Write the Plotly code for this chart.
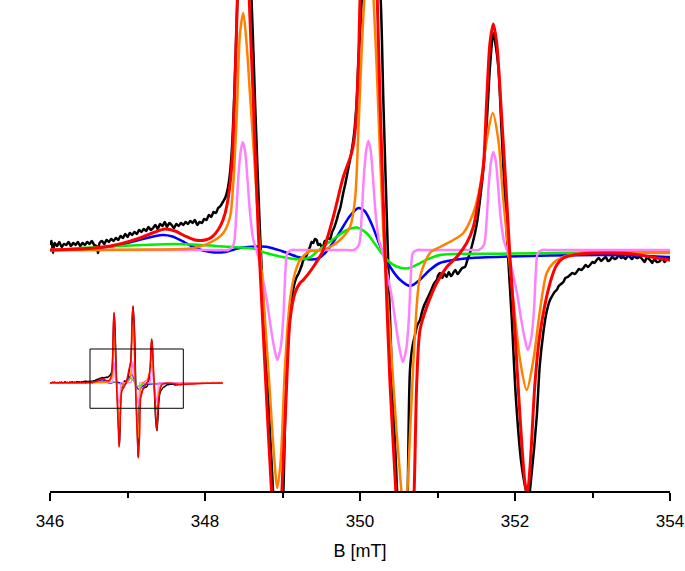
import plotly.graph_objects as go

# ---- data: (B [mT], signal [a.u.]) ----
black = [
    (343.0, 2), (343.1, -2), (343.2, 3), (343.3, 0), (343.4, 4), (343.5, -1), (343.6, 2), (343.7, -3),
    (343.8, 3), (343.9, 1), (344.0, 4), (344.1, -2), (344.2, 2), (344.3, 5), (344.4, 0), (344.5, 3),
    (344.6, -1), (344.7, 4), (344.8, 2), (344.9, 5), (345.0, 1), (345.1, 4), (345.2, 2), (345.3, 6),
    (345.4, 3), (345.5, 5), (345.6, 2), (345.7, 6), (345.8, 4), (345.9, 7),
    (346.00, 6), (346.02, 9), (346.04, -3), (346.06, 7), (346.09, 4), (346.12, 8), (346.15, 3), (346.18, 6),
    (346.21, 5), (346.24, 8), (346.27, 4), (346.30, 7), (346.33, 5), (346.36, 8), (346.39, 4), (346.42, 7),
    (346.45, 5), (346.48, 8), (346.51, 6), (346.54, 9), (346.57, 5), (346.60, 4), (346.62, -3), (346.64, 7),
    (346.67, 9), (346.70, 6), (346.73, 10), (346.76, 8), (346.79, 11), (346.82, 9), (346.85, 12), (346.88, 10),
    (346.91, 14), (346.94, 12), (346.97, 16), (347.00, 13), (347.03, 17), (347.06, 15), (347.09, 18), (347.12, 16),
    (347.15, 20), (347.18, 18), (347.21, 21), (347.24, 19), (347.27, 23), (347.30, 20), (347.33, 22), (347.36, 25),
    (347.39, 21), (347.42, 26), (347.45, 24), (347.48, 28), (347.51, 23), (347.54, 27), (347.57, 25), (347.60, 22),
    (347.63, 26), (347.66, 24), (347.69, 27), (347.72, 25), (347.75, 28), (347.78, 26), (347.81, 29), (347.84, 27),
    (347.87, 30), (347.90, 25), (347.93, 28), (347.96, 27), (347.99, 31), (348.02, 30), (348.05, 35), (348.08, 33),
    (348.11, 38), (348.14, 37), (348.17, 42), (348.20, 44), (348.23, 48), (348.26, 52), (348.29, 60), (348.32, 75),
    (348.35, 105), (348.38, 160), (348.42, 255), (348.45, 315), (348.50, 360), (348.55, 318), (348.60, 252),
    (348.645, 150), (348.71, 17), (348.774, -83), (348.839, -183), (348.881, -245), (348.915, -300), (348.945, -325),
    (348.975, -300), (349.01, -245), (349.054, -117), (349.119, -50), (349.15, -35), (349.183, -27), (349.205, -24),
    (349.226, -20), (349.25, -15), (349.27, -10), (349.29, -9), (349.312, -5), (349.335, 0), (349.355, 3),
    (349.375, 8), (349.397, 7), (349.42, 11), (349.441, 10), (349.46, 5), (349.484, 6), (349.505, 3), (349.526, 4),
    (349.545, 9), (349.561, 8), (349.585, 12), (349.613, 11), (349.64, 18), (349.665, 22), (349.699, 30),
    (349.72, 36), (349.745, 42), (349.784, 57), (349.81, 66), (349.84, 78), (349.871, 90), (349.89, 98),
    (349.914, 110), (349.935, 125), (349.958, 150), (349.98, 190), (350.0, 217), (350.022, 250), (350.06, 340),
    (350.12, 398), (350.19, 340), (350.267, 250), (350.301, 150), (350.352, 17), (350.409, -117), (350.481, -245),
    (350.515, -330), (350.55, -385), (350.585, -330), (350.615, -245), (350.645, -120), (350.68, -95), (350.71, -85),
    (350.74, -75), (350.774, -70), (350.80, -62), (350.83, -55), (350.86, -50), (350.903, -43), (350.93, -38),
    (350.96, -33), (350.99, -30), (351.01, -25), (351.032, -23), (351.06, -28), (351.09, -24), (351.118, -27),
    (351.145, -22), (351.175, -26), (351.203, -23), (351.23, -20), (351.26, -24), (351.29, -21), (351.32, -18),
    (351.355, -17), (351.385, -10), (351.419, -3), (351.45, 6), (351.484, 17), (351.515, 30), (351.548, 50),
    (351.58, 72), (351.613, 100), (351.645, 140), (351.677, 183), (351.72, 217), (351.75, 205), (351.785, 183),
    (351.828, 117), (351.893, 17), (351.957, -67), (352.013, -150), (352.077, -210), (352.142, -241),
    (352.174, -250), (352.206, -230), (352.28, -167), (352.32, -115), (352.365, -83), (352.40, -65), (352.43, -55),
    (352.452, -50), (352.48, -46), (352.51, -42), (352.538, -40), (352.565, -36), (352.595, -34), (352.624, -32),
    (352.65, -28), (352.68, -27), (352.71, -25), (352.74, -23), (352.77, -24), (352.796, -22), (352.825, -19),
    (352.855, -20), (352.882, -18), (352.91, -15), (352.94, -17), (352.968, -15), (353.0, -12), (353.025, -13),
    (353.054, -10), (353.08, -8), (353.11, -11), (353.139, -9), (353.17, -7), (353.2, -11), (353.226, -10),
    (353.255, -7), (353.285, -9), (353.312, -8), (353.34, -5), (353.37, -8), (353.397, -7), (353.425, -9),
    (353.455, -6), (353.484, -7), (353.51, -9), (353.54, -6), (353.57, -8), (353.613, -7), (353.64, -9),
    (353.67, -12), (353.70, -8), (353.742, -10), (353.77, -13), (353.80, -9), (353.83, -12), (353.871, -11),
    (353.90, -8), (353.93, -12), (353.96, -9), (354.0, -9),
    (354.1, -8), (354.2, -11), (354.3, -6), (354.4, -9), (354.5, -5), (354.6, -8), (354.7, -4), (354.8, -7),
    (354.9, -3), (355.0, -6), (355.1, -2), (355.2, -5), (355.3, -3), (355.4, -6), (355.5, -2), (355.6, -4),
    (355.7, -1), (355.8, -4), (355.9, 0), (356.0, -3), (356.1, 1), (356.2, -2), (356.3, 0), (356.4, -3),
    (356.5, 1), (356.6, -2), (356.7, 0), (356.8, -3), (356.9, 1), (357.0, -1), (357.1, 2), (357.2, -2),
    (357.3, 1), (357.4, -1), (357.5, 2), (357.6, -1), (357.7, 1), (357.8, 0),
]

blue = [
    (343.0, 0), (346.0, 0), (346.5, 1), (346.9, 5), (347.2, 11), (347.45, 15), (347.58, 13.5), (347.74, 7.5),
    (347.91, 1), (348.09, -2.3), (348.26, -2), (348.45, 2), (348.6, 3.3), (348.79, 3.3), (348.99, -1),
    (349.2, -7), (349.36, -9.5), (349.46, -8.5), (349.55, -3), (349.63, 5), (349.74, 18), (349.87, 34),
    (349.98, 42), (350.06, 39), (350.15, 26), (350.26, 4), (350.39, -17), (350.52, -30), (350.65, -36),
    (350.77, -30), (350.9, -20), (351.03, -13), (351.2, -10), (351.42, -8), (351.93, -6.5), (352.45, -5.5),
    (353.1, -5), (353.6, -5.5), (354.0, -7), (355.5, -4), (357.8, -2),
]

green = [
    (343.0, 0), (346.0, 0), (346.4, 2), (346.75, 3.5), (347.2, 5), (347.6, 6), (347.95, 5), (348.24, 3.5),
    (348.45, 2.5), (348.62, 1.5), (348.79, -3), (349.0, -7), (349.2, -9.3), (349.35, -7.5), (349.47, 0),
    (349.57, 6), (349.7, 13.3), (349.83, 20), (349.96, 22.5), (350.09, 16.5), (350.22, 3), (350.35, -10),
    (350.47, -16.5), (350.62, -18.3), (350.77, -13.3), (350.9, -8.3), (351.03, -5), (351.2, -4), (351.6, -3.8),
    (352.0, -3.5), (352.5, -3), (353.0, -2.5), (353.5, -2), (354.0, -2), (357.8, -1),
]

violet = [
    (343.0, 0), (346.0, 0), (348.0, 0), (348.22, 0), (348.301, 0), (348.366, 5), (348.401, 33), (348.430, 73),
    (348.461, 99), (348.487, 108), (348.517, 99), (348.546, 73), (348.581, 37), (348.624, 10), (348.675, -3),
    (348.732, -23), (348.797, -50), (348.848, -77), (348.891, -97), (348.933, -110), (348.977, -97),
    (349.011, -67), (349.037, -23), (349.062, -3), (349.119, 0), (349.2, 0), (349.5, 0), (349.84, 0),
    (349.921, 0), (349.986, 5), (350.021, 34), (350.050, 74), (350.081, 100), (350.107, 109), (350.137, 100),
    (350.166, 74), (350.201, 37), (350.244, 10), (350.295, -3), (350.352, -24), (350.417, -50), (350.468, -78),
    (350.511, -99), (350.553, -112), (350.597, -99), (350.631, -68), (350.657, -24), (350.682, -3), (350.739, 0),
    (350.82, 0), (351.1, 0), (351.45, 0), (351.534, 0), (351.599, 5), (351.634, 30), (351.663, 67),
    (351.694, 90), (351.720, 98), (351.750, 90), (351.779, 67), (351.814, 33), (351.857, 9), (351.908, -3),
    (351.965, -21), (352.030, -45), (352.081, -70), (352.124, -88), (352.166, -100), (352.210, -88),
    (352.244, -61), (352.270, -21), (352.295, -3), (352.352, 0), (352.45, 0), (353.0, 0), (354.0, 0), (357.8, 0),
]

orange = [
    (343.0, 0), (346.0, 0), (347.29, 0.5), (347.806, 1.5), (347.935, 3.5), (348.107, 9), (348.236, 17),
    (348.323, 33), (348.365, 67), (348.409, 133), (348.452, 217), (348.494, 237), (348.538, 205), (348.581, 155),
    (348.645, 80), (348.71, 0), (348.774, -70), (348.839, -145), (348.89, -205), (348.933, -238), (348.977, -210),
    (349.032, -117), (349.097, -50), (349.161, -23), (349.226, -10), (349.355, -1), (349.441, -1), (349.613, 3),
    (349.742, 10), (349.871, 23), (349.935, 50), (349.978, 117), (350.022, 200), (350.065, 262), (350.123, 310),
    (350.172, 255), (350.215, 183), (350.301, 17), (350.387, -83), (350.473, -183), (350.538, -245),
    (350.574, -290), (350.61, -245), (350.645, -185), (350.71, -83), (350.774, -27), (350.903, -3), (351.032, 3),
    (351.204, 10), (351.333, 17), (351.462, 37), (351.548, 63), (351.635, 110), (351.712, 137), (351.785, 110),
    (351.849, 50), (351.914, 0), (351.978, -50), (352.065, -110), (352.151, -140), (352.237, -110),
    (352.323, -60), (352.409, -23), (352.495, -13), (352.624, -7), (352.839, -3), (353.4, -3), (354.0, -3),
    (357.8, -1),
]

red = [
    (343.0, 0), (344.5, 0), (346.0, 0), (346.387, 1), (346.645, 2.5), (346.903, 6), (347.161, 12), (347.355, 18),
    (347.484, 21), (347.613, 19), (347.742, 14), (347.871, 10), (348.0, 10), (348.09, 13), (348.168, 20),
    (348.232, 30), (348.284, 45), (348.344, 83), (348.387, 167), (348.417, 250), (348.445, 320), (348.494, 364),
    (348.54, 320), (348.571, 250), (348.623, 150), (348.688, 17), (348.752, -83), (348.817, -183),
    (348.861, -245), (348.895, -300), (348.926, -334), (348.958, -300), (348.99, -245), (349.045, -150),
    (349.097, -70), (349.161, -43), (349.226, -33), (349.268, -30), (349.397, -17), (349.526, 0), (349.655, 33),
    (349.784, 73), (349.892, 97), (349.935, 117), (349.978, 183), (350.0, 250), (350.04, 340), (350.11, 396),
    (350.18, 340), (350.223, 250), (350.258, 150), (350.323, -3), (350.387, -133), (350.465, -245),
    (350.52, -330), (350.581, -390), (350.64, -330), (350.697, -245), (350.732, -133), (350.774, -80),
    (350.861, -57), (350.99, -33), (351.119, -17), (351.248, -7), (351.377, 7), (351.462, 23), (351.527, 50),
    (351.591, 83), (351.635, 150), (351.677, 207), (351.72, 226), (351.764, 207), (351.828, 133), (351.893, 50),
    (351.935, -7), (352.0, -83), (352.065, -167), (352.129, -233), (352.159, -243), (352.194, -217),
    (352.258, -133), (352.323, -83), (352.452, -33), (352.538, -15), (352.624, -8), (352.754, -5),
    (352.968, -3.3), (353.397, -3.3), (353.613, -5), (353.829, -8), (354.0, -10), (355.0, -7), (356.5, -3),
    (357.8, -2),
]

x_ticks = [346, 348, 350, 352, 354]
x_title = "B [mT]"

series = [
    (black, "#000000", 2.5, 1.3),
    (blue, "#0000FF", 2.5, 1.2),
    (green, "#00EE00", 2.5, 1.2),
    (violet, "#FF80FF", 2.5, 1.2),
    (orange, "#FF8000", 2.5, 1.2),
    (red, "#FF0000", 3.0, 1.5),
]

fig = go.Figure()
for pts, color, w, _ in series:
    fig.add_trace(go.Scatter(
        x=[p[0] for p in pts], y=[p[1] for p in pts], mode="lines",
        line=dict(color=color, width=w, shape="spline", smoothing=0.8),
        xaxis="x", yaxis="y", hoverinfo="skip", showlegend=False))
for pts, color, _, wi in series:
    fig.add_trace(go.Scatter(
        x=[p[0] for p in pts], y=[p[1] for p in pts], mode="lines",
        line=dict(color=color, width=wi, shape="spline", smoothing=0.8),
        xaxis="x2", yaxis="y2", hoverinfo="skip", showlegend=False))

font = dict(family="Liberation Sans, Arial, sans-serif", size=17, color="black")
fig.update_layout(
    width=685, height=571,
    margin=dict(l=50, r=15, t=0, b=80),
    paper_bgcolor="white", plot_bgcolor="white",
    showlegend=False,
    xaxis=dict(range=[346, 354], tickvals=x_ticks, showline=True, linecolor="black", linewidth=1.5,
               ticks="outside", ticklen=8, tickwidth=1.5, tickcolor="black", ticklabelstandoff=6,
               minor=dict(dtick=1, tick0=346, ticks="outside", ticklen=5, tickwidth=1.5, tickcolor="black"),
               showgrid=False, zeroline=False, tickfont=font,
               title=dict(text=x_title, font=dict(family=font["family"], size=18, color="black"), standoff=14)),
    yaxis=dict(range=[-241, 250], visible=False),
    xaxis2=dict(domain=[0, 0.279], range=[343.0, 357.83], visible=False, anchor="y2"),
    yaxis2=dict(domain=[0.0428, 0.4094], range=[-452.3, 480.3], visible=False, anchor="x2"),
    shapes=[dict(type="rect", xref="x2", yref="y2", x0=346.43, x1=354.43, y0=-132.6, y1=174.6,
                 line=dict(color="black", width=1))],
)

fig.write_html("out.html", config={"displayModeBar": False},
               post_script="document.body.style.margin='0px';")
